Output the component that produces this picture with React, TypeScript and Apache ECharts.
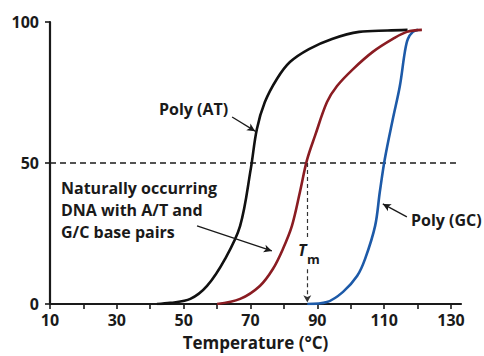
import React, { useEffect, useRef } from "react";
import * as echarts from "echarts";

const xTickValues = [10, 20, 30, 40, 50, 60, 70, 80, 90, 100, 110, 120, 130];
const xLabelValues = [10, 30, 50, 70, 90, 110, 130];
const yTickValues = [0, 50, 100];

const polyAT: [number, number][] = [
  [42, 0], [46, 0.4], [52, 1.8], [57, 6.4], [62.4, 16], [66.9, 27.7], [70.1, 48],
  [71.9, 62], [74.3, 71.6], [77.9, 79.8], [81.8, 85.8], [87.5, 90.4], [94.4, 94],
  [102.5, 96.5], [111, 97], [117, 97.2],
];
const naturalDNA: [number, number][] = [
  [60, 0], [66.9, 1.8], [72.8, 6.4], [76.7, 12.4], [79.7, 19.5], [82.4, 27.7],
  [84.8, 39.7], [86.9, 51], [89.3, 59.6], [92.9, 71.6], [95.9, 77.3], [100.7, 83.3],
  [106.6, 89.4], [112.6, 94], [116.8, 96.5], [121.3, 97.2],
];
const polyGC: [number, number][] = [
  [87, 0], [92.9, 0.7], [97.7, 4.3], [101.9, 9.9], [104.3, 16], [107.3, 27.7],
  [108.7, 39.7], [110.2, 51.4], [112.6, 65.6], [114.7, 77.3], [116.2, 89.4],
  [117.1, 94], [118.6, 96.5], [120.1, 97.2],
];
const halfLine: [number, number][] = [[10, 50], [131.5, 50]];
const tmValue = 87;

const FONT = "'Open Sans', 'Noto Sans', sans-serif";

export default function App() {
  const ref = useRef<HTMLDivElement>(null);
  useEffect(() => {
    if (!ref.current) return;
    const chart = echarts.init(ref.current, undefined, { renderer: "svg" });
    const arrowStyle = { color: "#1a1a1a", width: 1.3, type: "solid" as const };
    chart.setOption({
      animation: false,
      backgroundColor: "#ffffff",
      grid: { left: 50, right: 23, top: 22, bottom: 51, containLabel: false },
      xAxis: {
        type: "value",
        min: 10,
        max: 133,
        interval: 10,
        splitLine: { show: false },
        axisLine: { lineStyle: { color: "#1a1a1a", width: 2.2 } },
        axisTick: { customValues: xTickValues, length: 5, lineStyle: { color: "#1a1a1a", width: 1.6 } },
        axisLabel: {
          customValues: xLabelValues,
          margin: 8,
          color: "#1a1a1a",
          fontFamily: FONT,
          fontWeight: "bold",
          fontSize: 16,
        },
        name: "Temperature (°C)",
        nameLocation: "middle",
        nameGap: 30,
        nameTextStyle: { color: "#1a1a1a", fontFamily: FONT, fontWeight: "bold", fontSize: 17 },
      },
      yAxis: {
        type: "value",
        min: 0,
        max: 100,
        interval: 50,
        splitLine: { show: false },
        axisLine: { show: true, lineStyle: { color: "#1a1a1a", width: 2.2 } },
        axisTick: { show: true, customValues: yTickValues, length: 5, lineStyle: { color: "#1a1a1a", width: 1.6 } },
        axisLabel: {
          customValues: yTickValues,
          margin: 11,
          color: "#1a1a1a",
          fontFamily: FONT,
          fontWeight: "bold",
          fontSize: 16,
        },
      },
      series: [
        {
          type: "line",
          data: halfLine,
          symbol: "none",
          silent: true,
          lineStyle: { color: "#1a1a1a", width: 1.5, type: [6, 4] },
          markLine: {
            silent: true,
            animation: false,
            label: { show: false },
            data: [
              [
                { coord: [tmValue, 50], symbol: "none", lineStyle: { color: "#333", width: 1.2, type: [4, 3] } },
                { coord: [tmValue, 23], symbol: "none" },
              ],
              [
                { coord: [tmValue, 12.3], symbol: "none", lineStyle: { color: "#333", width: 1.2, type: [4, 3] } },
                { coord: [tmValue, 0.6], symbol: "arrow", symbolSize: [6, 7] },
              ],
              [
                { coord: [64.5, 66.3], symbol: "none", lineStyle: arrowStyle },
                { coord: [71.4, 61.3], symbol: "arrow", symbolSize: [6, 8] },
              ],
              [
                { coord: [54, 27.7], symbol: "none", lineStyle: arrowStyle },
                { coord: [76.4, 18.8], symbol: "arrow", symbolSize: [6, 8] },
              ],
              [
                { coord: [116.8, 30.9], symbol: "none", lineStyle: arrowStyle },
                { coord: [109.6, 35.5], symbol: "arrow", symbolSize: [6, 8] },
              ],
            ],
          },
        },
        {
          name: "Poly (AT)",
          type: "line",
          data: polyAT,
          symbol: "none",
          smooth: 0.35,
          lineStyle: { color: "#111111", width: 2.6 },
        },
        {
          name: "Poly (GC)",
          type: "line",
          data: polyGC,
          symbol: "none",
          smooth: 0.35,
          lineStyle: { color: "#1d5aa8", width: 2.6 },
        },
        {
          name: "Natural DNA",
          type: "line",
          data: naturalDNA,
          symbol: "none",
          smooth: 0.35,
          lineStyle: { color: "#8a1c22", width: 2.6 },
        },
      ],
      graphic: [
        {
          type: "text",
          left: 159,
          top: 101,
          style: { text: "Poly (AT)", fill: "#1a1a1a", font: `bold 16px ${FONT}` },
        },
        {
          type: "text",
          left: 61,
          top: 177,
          style: {
            text: "Naturally occurring\nDNA with A/T and\nG/C base pairs",
            fill: "#1a1a1a",
            font: `bold 16px ${FONT}`,
            lineHeight: 22,
          },
        },
        {
          type: "text",
          left: 411,
          top: 212,
          style: { text: "Poly (GC)", fill: "#1a1a1a", font: `bold 16px ${FONT}` },
        },
        {
          type: "text",
          left: 298,
          top: 242,
          style: { text: "T", fill: "#1a1a1a", font: `italic bold 16px ${FONT}` },
        },
        {
          type: "text",
          left: 307,
          top: 252,
          style: { text: "m", fill: "#1a1a1a", font: `bold 13px ${FONT}` },
        },
      ],
    });
    return () => chart.dispose();
  }, []);
  return (
    <div
      ref={ref}
      style={{ position: "fixed", left: 0, top: 0, width: 484, height: 356, background: "#fff" }}
    />
  );
}
